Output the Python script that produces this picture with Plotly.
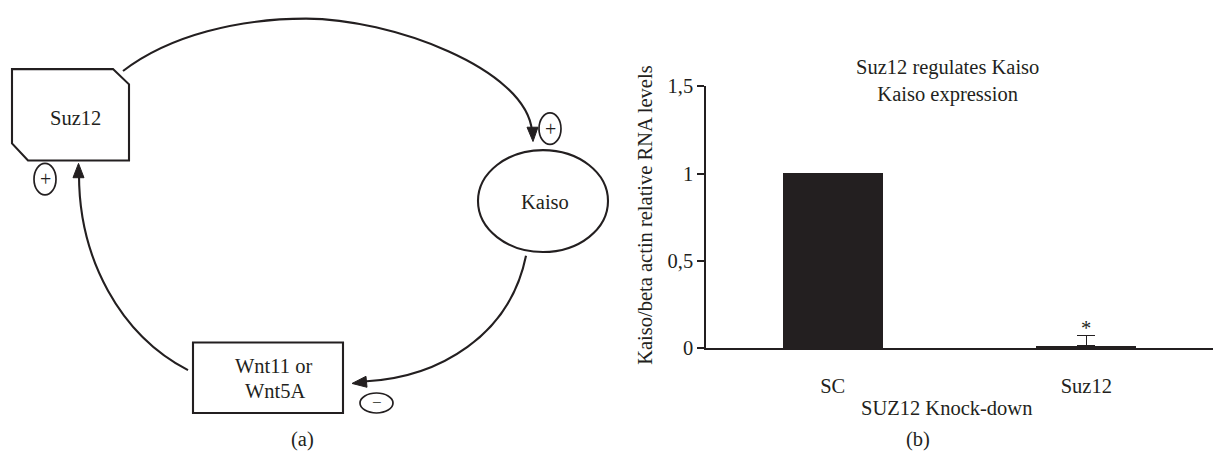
import plotly.graph_objects as go

W, H = 1213, 464

# ---- data (panel b) ----
categories = ["SC", "Suz12"]
values = [1.0, 0.012]
errors_up = [None, 0.06]
significance = ["", "*"]
y_tickvals = [0, 0.5, 1, 1.5]
y_ticktext = ["0", "0,5", "1", "1,5"]

INK = "#231f20"
FONT = "Liberation Serif"
FS = 20.5


def px(x):
    return x / W


def py(y):
    return 1 - y / H


def P(x, y):
    return f"{px(x):.5f},{py(y):.5f}"


fig = go.Figure()

fig.add_trace(go.Bar(
    x=categories, y=values, width=0.395,
    marker=dict(color=INK, line=dict(width=0)),
    error_y=dict(type="data", symmetric=False, array=errors_up,
                 arrayminus=[0, 0], color=INK, thickness=1.5, width=9),
    showlegend=False, hoverinfo="skip",
))

for c, v, e, s in zip(categories, values, errors_up, significance):
    if s:
        fig.add_annotation(x=c, y=v + (e or 0), xref="x", yref="y", text=s,
                           showarrow=False, yanchor="bottom", yshift=-5,
                           font=dict(family=FONT, size=FS, color=INK))

# ---- diagram (panel a) shapes, in pixel space ----
shapes = []
LW = 2.1

# Suz12 box with two cut corners
suz = [(12, 61), (113, 61), (129, 77), (129, 157), (28, 157), (12, 139)]
d = "M " + " L ".join(P(x, y) for x, y in suz) + " Z"
shapes.append(dict(type="path", path=d, xref="paper", yref="paper",
                   line=dict(color=INK, width=LW), fillcolor="rgba(0,0,0,0)"))

# Wnt box
shapes.append(dict(type="rect", xref="paper", yref="paper",
                   x0=px(193), x1=px(343), y0=py(348), y1=py(422),
                   line=dict(color=INK, width=LW)))

# Kaiso ellipse
shapes.append(dict(type="circle", xref="paper", yref="paper",
                   x0=px(478), x1=px(608), y0=py(146), y1=py(253),
                   line=dict(color=INK, width=LW)))

# small sign ellipses
for (x0, y0, x1, y1) in [(539, 107, 561, 140), (34, 160, 56, 193), (360, 401, 393, 422)]:
    shapes.append(dict(type="circle", xref="paper", yref="paper",
                       x0=px(x0), x1=px(x1), y0=py(y0), y1=py(y1),
                       line=dict(color=INK, width=1.7)))

# curves
curves = [
    "M " + P(123, 63) + " C " + P(170, 25) + " " + P(240, 8) + " " + P(306, 8)
    + " C " + P(390, 8) + " " + P(526, 60) + " " + P(532, 126),
    "M " + P(526, 257) + " C " + P(510, 340) + " " + P(440, 385) + " " + P(364, 389),
    "M " + P(188, 377) + " C " + P(120, 340) + " " + P(79, 260) + " " + P(79, 172),
]
for c in curves:
    shapes.append(dict(type="path", path=c, xref="paper", yref="paper",
                       line=dict(color=INK, width=LW)))

# arrow heads
heads = [
    [(527, 122), (538, 122), (533, 137)],
    [(366, 383.5), (367, 395), (352, 391)],
    [(73, 175), (84, 175), (78.5, 160)],
]
for h in heads:
    d = "M " + " L ".join(P(x, y) for x, y in h) + " Z"
    shapes.append(dict(type="path", path=d, xref="paper", yref="paper",
                       line=dict(color=INK, width=1), fillcolor=INK))

fig.update_layout(shapes=shapes)

# texts
texts = [
    ("Suz12", 75, 112, FS, 0),
    ("Kaiso", 545, 201, FS, 0),
    ("Wnt11 or", 273, 373, FS, 0),
    ("Wnt5A", 275, 399, FS, 0),
    ("+", 550, 123.5, 20, 0),
    ("+", 45, 176.5, 20, 0),
    ("\u2212", 376.5, 411.5, 17, 0),
    ("(a)", 302, 450, FS, 0),
    ("(b)", 918, 450, FS, 0),
    ("Suz12 regulates Kaiso<br>Kaiso expression", 948, 74, FS, 0),
    ("SUZ12 Knock-down", 946, 417, FS, 0),
    ("Kaiso/beta actin relative RNA levels", 645, 215, FS, -90),
]
for t, x, y, s, a in texts:
    fig.add_annotation(x=px(x), y=py(y), xref="paper", yref="paper", text=t,
                       showarrow=False, xanchor="center", yanchor="middle",
                       textangle=a,
                       font=dict(family=FONT, size=s, color=INK))

fig.update_layout(
    width=W, height=H,
    margin=dict(l=0, r=0, t=0, b=0),
    paper_bgcolor="white", plot_bgcolor="white",
    font=dict(family=FONT, size=FS, color=INK),
    bargap=0, hovermode=False,
    xaxis=dict(domain=[px(706), 1.0], range=[-0.5, 1.5], showline=True,
               linecolor=INK, linewidth=1.5, ticks="", showgrid=False,
               zeroline=False, ticklabelstandoff=18,
               tickfont=dict(family=FONT, size=FS, color=INK),
               fixedrange=True),
    yaxis=dict(domain=[py(354), py(79)], range=[0, 1.5], tickvals=y_tickvals,
               ticktext=y_ticktext, showline=True, linecolor=INK, linewidth=1.5,
               ticks="outside", ticklen=7, tickwidth=1.5, tickcolor=INK,
               tickfont=dict(family=FONT, size=FS, color=INK),
               showgrid=False, zeroline=False,
               fixedrange=True),
)

fig.write_html("out.html", config={"displayModeBar": False},
               post_script="document.body.style.margin='0';")
